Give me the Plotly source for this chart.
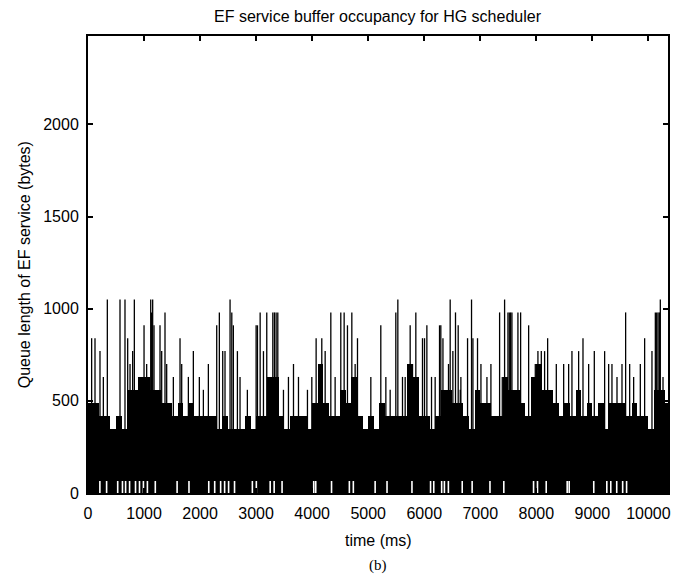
import plotly.graph_objects as go

# queue level of the dense "body" of the trace, one value per 100 ms bin (bytes)
bin_ms = 100
floor_bytes = [
    490, 490, 420, 420, 350, 420, 350, 560, 560, 630,
    630, 560, 560, 490, 490, 420, 490, 420, 490, 420,
    420, 420, 420, 350, 420, 350, 350, 350, 420, 350,
    420, 420, 630, 630, 420, 350, 420, 420, 420, 350,
    490, 700, 490, 420, 420, 560, 490, 630, 420, 350,
    420, 350, 490, 420, 420, 420, 420, 700, 630, 420,
    420, 350, 420, 560, 560, 490, 490, 420, 350, 560,
    490, 490, 420, 420, 630, 560, 560, 490, 420, 630,
    700, 560, 560, 490, 420, 490, 420, 560, 420, 490,
    420, 490, 350, 490, 490, 490, 420, 490, 420, 420,
    350, 560, 560, 490,
]

# isolated peaks of the queue (time in ms, length in bytes)
spike_t = [
    65, 125, 214, 274, 345, 571, 660, 708, 750, 797,
    827, 928, 1000, 1047, 1119, 1136, 1154, 1178, 1285, 1315,
    1374, 1404, 1523, 1642, 1672, 1791, 1880, 1987, 2059, 2148,
    2297, 2344, 2404, 2445, 2535, 2566, 2594, 2666, 2713, 2844,
    3000, 3024, 3072, 3131, 3190, 3298, 3327, 3357, 3387, 3488,
    3577, 3667, 3756, 3916, 3994, 4071, 4172, 4232, 4333, 4410,
    4511, 4571, 4630, 4708, 4767, 4809, 5047, 5225, 5315, 5392,
    5493, 5529, 5612, 5660, 5749, 5791, 5850, 5969, 6005, 6047,
    6130, 6195, 6273, 6296, 6334, 6433, 6463, 6511, 6558, 6606,
    6643, 6654, 6773, 6844, 6869, 6951, 7012, 7119, 7190, 7345,
    7393, 7434, 7494, 7518, 7541, 7565, 7672, 7720, 7863, 7982,
    8029, 8089, 8148, 8202, 8357, 8488, 8577, 8636, 8755, 8833,
    8934, 9035, 9219, 9291, 9350, 9440, 9529, 9594, 9666, 9737,
    9856, 9933, 10064, 10124, 10148, 10172, 10196, 10213, 10261,
]
spike_bytes = [
    840, 840, 770, 630, 1050, 1050, 1050, 840, 700, 770,
    1050, 630, 910, 700, 1050, 980, 1050, 910, 910, 770,
    980, 700, 630, 840, 700, 630, 770, 630, 560, 700,
    910, 980, 770, 770, 1050, 980, 910, 770, 630, 560,
    910, 910, 980, 770, 980, 980, 980, 980, 980, 560,
    630, 700, 630, 560, 630, 840, 840, 770, 980, 630,
    980, 980, 910, 980, 700, 840, 630, 910, 630, 560,
    980, 1050, 630, 630, 910, 700, 980, 840, 840, 910,
    630, 630, 910, 910, 840, 700, 1050, 770, 980, 910,
    560, 630, 840, 1050, 840, 840, 700, 630, 700, 980,
    630, 1050, 980, 980, 980, 980, 980, 980, 910, 700,
    770, 770, 770, 840, 700, 700, 700, 770, 770, 840,
    700, 770, 770, 700, 700, 630, 700, 980, 700, 630,
    700, 840, 770, 980, 980, 980, 980, 1050, 630,
]

# moments where the queue never emptied (minimum stays at one packet)
gap_t = [
    212, 332, 530, 615, 671, 742, 848, 919, 989, 1060,
    1201, 1590, 1802, 2155, 2261, 2367, 2438, 2509, 2615, 2933,
    3004, 3251, 3322, 3463, 4028, 4064, 4346, 4664, 4735, 5124,
    5336, 5781, 6113, 6170, 6311, 6360, 6431, 6678, 6855, 7173,
    7420, 7951, 8021, 8177, 8551, 8587, 9025, 9258, 9329, 9435,
    9541, 9611,
]
gap_min_bytes = 65

x_ticks = list(range(0, 10001, 1000))
y_ticks = [0, 500, 1000, 1500, 2000]

FONT = "Liberation Sans, Arial, Helvetica, sans-serif"
FS = 16

fig = go.Figure()

fig.add_trace(
    go.Bar(
        x=[i * bin_ms + bin_ms / 2 for i in range(len(floor_bytes))],
        y=floor_bytes,
        width=bin_ms,
        marker=dict(color="black", line=dict(width=0)),
        hoverinfo="skip",
        showlegend=False,
    )
)

sx, sy = [], []
for t, v in zip(spike_t, spike_bytes):
    sx += [t, t, None]
    sy += [0, v, None]

fig.add_trace(
    go.Scatter(
        x=sx,
        y=sy,
        mode="lines",
        line=dict(color="black", width=1.3),
        hoverinfo="skip",
        showlegend=False,
    )
)

gx, gy = [], []
for t in gap_t:
    gx += [t, t, None]
    gy += [0, gap_min_bytes, None]

fig.add_trace(
    go.Scatter(
        x=gx,
        y=gy,
        mode="lines",
        line=dict(color="white", width=1.6),
        hoverinfo="skip",
        showlegend=False,
    )
)

axis_common = dict(
    showline=True,
    linecolor="black",
    linewidth=2,
    mirror="allticks",
    ticks="inside",
    ticklen=5,
    tickwidth=1.5,
    tickcolor="black",
    showgrid=False,
    zeroline=False,
    tickfont=dict(family=FONT, size=FS, color="black"),
)

fig.update_xaxes(range=[0, 10350], tickvals=x_ticks, ticktext=[str(v) for v in x_ticks],
                 ticklabelstandoff=5, **axis_common)
fig.update_yaxes(range=[0, 2480], tickvals=y_ticks, ticktext=[str(v) for v in y_ticks],
                 ticklabelstandoff=4, **axis_common)

txt = dict(xref="paper", yref="paper", showarrow=False, xanchor="center", yanchor="middle")
fig.add_annotation(text="EF service buffer occupancy for HG scheduler", x=0.5, y=1.042,
                   font=dict(family=FONT, size=FS, color="black"), **txt)
fig.add_annotation(text="time (ms)", x=0.5, y=-0.103,
                   font=dict(family=FONT, size=FS, color="black"), **txt)
fig.add_annotation(text="Queue length of EF service (bytes)", x=-0.109, y=0.5, textangle=-90,
                   font=dict(family=FONT, size=FS, color="black"), **txt)
fig.add_annotation(text="(b)", x=0.5, y=-0.158,
                   font=dict(family="Liberation Serif, Times New Roman, serif", size=15, color="black"), **txt)

# the page body adds an 8 px margin, so the figure is sized to fit the window
fig.update_layout(
    width=677,
    height=569,
    margin=dict(l=80, r=17, t=28, b=84),
    paper_bgcolor="white",
    plot_bgcolor="white",
    bargap=0,
    showlegend=False,
    hovermode=False,
)

fig.write_html("out.html")
